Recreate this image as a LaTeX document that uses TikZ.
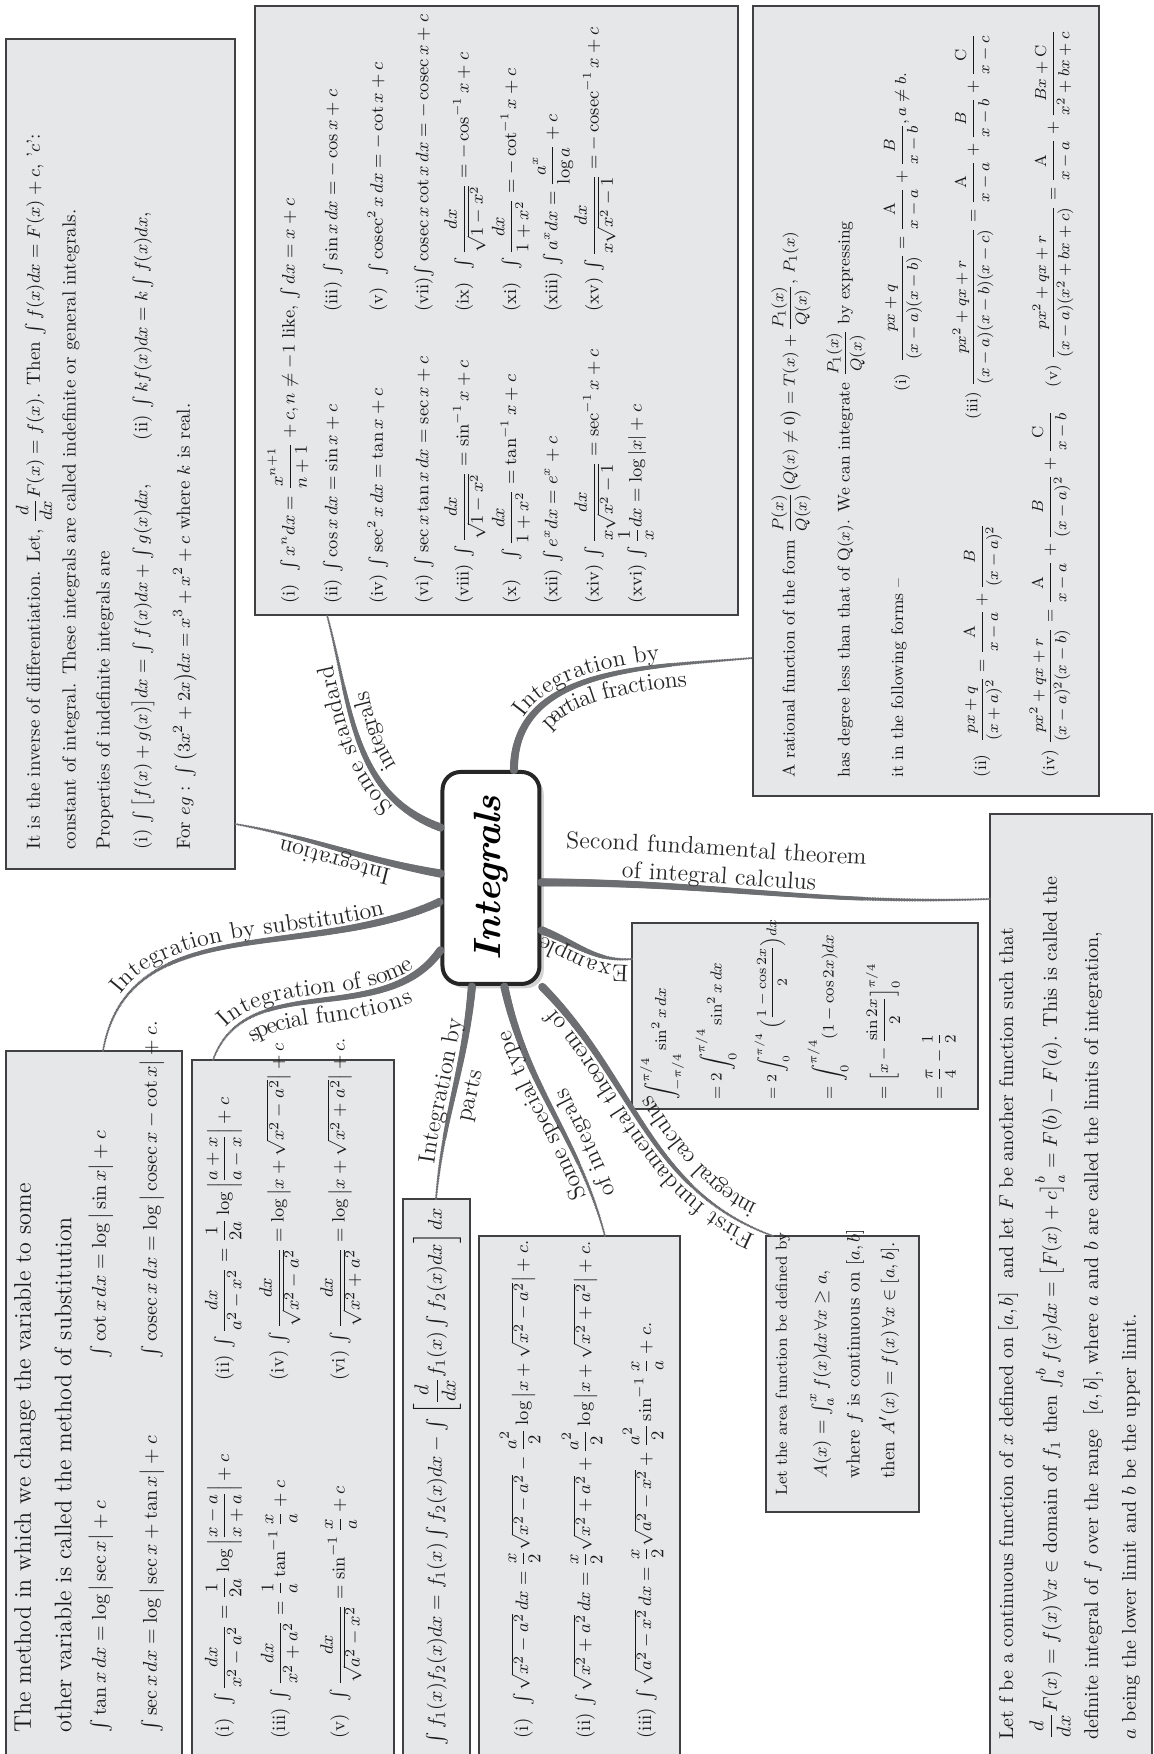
\documentclass[tikz,border=0pt]{standalone}
\usepackage{amsmath,amssymb}
\usetikzlibrary{calc,decorations.text,decorations.markings,shadows}

\definecolor{boxfill}{HTML}{E6E7E8}
\definecolor{boxline}{HTML}{414042}
\definecolor{branchgray}{HTML}{6D6E71}
\DeclareMathOperator{\cosec}{cosec}
\newcommand{\brfont}{\fontsize{12}{14}\selectfont}

\tikzset{
  infobox/.style={draw=boxline, fill=boxfill, line width=1pt, inner sep=0pt},
  txt/.style={anchor=west, inner sep=0pt, text=black!90},
  txtA/.style={txt, font=\fontsize{9.5}{11}\selectfont},
  txtB/.style={txt, font=\fontsize{9}{11}\selectfont},
  txtC/.style={txt, font=\fontsize{8.5}{10}\selectfont},
  txtCr/.style={txt, font=\fontsize{8}{10}\selectfont},
  txtD/.style={txt, font=\fontsize{10}{12}\selectfont},
  txtE/.style={txt, font=\fontsize{8}{9}\selectfont},
  txtF/.style={txt, font=\fontsize{8}{10}\selectfont},
  txtFm/.style={txt, font=\fontsize{9.5}{11}\selectfont},
  txtG/.style={txt, font=\fontsize{9.5}{11}\selectfont},
  txtH/.style={txt, font=\fontsize{10}{12}\selectfont},
  txtI/.style={txt, font=\fontsize{9.5}{11}\selectfont},
  txtJ/.style={txt, font=\fontsize{12}{14}\selectfont},
  txtJm/.style={txt, font=\fontsize{10}{12}\selectfont},
  % thick at the centre, thin at the box
  taperout/.style={postaction={decorate, decoration={markings,
      mark=between positions 0 and 1 step 0.8pt with {
        \pgfmathsetmacro{\tr}{2.1-1.55*\pgfkeysvalueof{/pgf/decoration/mark info/distance from start}/\pgfdecoratedpathlength}
        \fill[branchgray] (0,0) circle (\tr pt);}}}},
  taperin/.style={postaction={decorate, decoration={markings,
      mark=between positions 0 and 1 step 0.8pt with {
        \pgfmathsetmacro{\tr}{0.55+1.55*\pgfkeysvalueof{/pgf/decoration/mark info/distance from start}/\pgfdecoratedpathlength}
        \fill[branchgray] (0,0) circle (\tr pt);}}}},
  uplabel/.style={postaction={decorate, decoration={text along path, text align=center,
      raise=3pt, text color=black!85, text={|\brfont|#1}}}},
  dnlabel/.style={postaction={decorate, decoration={text along path, text align=center,
      raise=-11.5pt, text color=black!85, text={|\brfont|#1}}}},
  uplabelat/.style 2 args={postaction={decorate, decoration={text along path,
      text align={left, left indent=#2}, raise=3pt, text color=black!85, text={|\brfont|#1}}}},
  toplabelat/.style 2 args={postaction={decorate, decoration={text along path,
      text align={left, left indent=#2}, raise=17pt, text color=black!85, text={|\brfont|#1}}}},
  dnlabelat/.style 2 args={postaction={decorate, decoration={text along path,
      text align={left, left indent=#2}, raise=-11.5pt, text color=black!85, text={|\brfont|#1}}}},
  mainnode/.style={draw=black!85, line width=2pt, fill=white, rounded corners=9pt,
      minimum width=106pt, minimum height=48.5pt,
      font=\fontsize{19}{22}\selectfont\bfseries\itshape, drop shadow={opacity=0.35}}
}

\begin{document}
\begin{tikzpicture}[x=0.5pt, y=0.5pt, rotate=90, transform shape]
  \useasboundingbox (0,0) rectangle (1754,1153);
  \clip (0,0) rectangle (1754,1153);

  % boxes
  \node[infobox, minimum width=415pt, minimum height=114.5pt] (boxA) at (1300,1032.5) {};
  \node[infobox, minimum width=304.5pt, minimum height=241.5pt] (boxB) at (1443.5,656.5) {};
  \node[infobox, minimum width=395pt, minimum height=173pt] (boxC) at (1353,227) {};
  \node[infobox, minimum width=475pt, minimum height=81pt] (boxD) at (465,82) {};
  \node[infobox, minimum width=93pt, minimum height=173pt] (boxE) at (738,348) {};
  \node[infobox, minimum width=138pt, minimum height=76.5pt] (boxF) at (380,310.5) {};
  \node[infobox, minimum width=264pt, minimum height=100.5pt] (boxG) at (254,573.5) {};
  \node[infobox, minimum width=282.5pt, minimum height=33.5pt] (boxH) at (272.5,716.5) {};
  \node[infobox, minimum width=352pt, minimum height=101pt] (boxI) at (342,860) {};
  \node[infobox, minimum width=356.5pt, minimum height=88pt] (boxJ) at (346.5,1059) {};

  % centre
  \node[mainnode] (main) at (876,662) {Integrals};

  % branch ends on the boxes
  \coordinate (pA) at (930,918);
  \coordinate (pJ) at (703,1050);
  \coordinate (pI) at (694,940);
  \coordinate (pB) at (1139,826);
  \coordinate (pC) at (1096,400);
  \coordinate (pD) at (855,163);
  \coordinate (pE) at (795,521);
  \coordinate (pF) at (518,380);
  \coordinate (pG) at (518,548);
  \coordinate (pH) at (555,717);

  % branches
  \path[taperout, uplabel={Integration}] (main.85) to[out=80, in=-100] (pA);
  \path[taperin, uplabel={Integration by substitution}] (pJ) to[out=-10, in=115] (main.115);
  \path[taperin, uplabel={Integration of some}, dnlabel={special functions}] (pI) to[out=-20, in=145] (main.145);
  \path[taperout, uplabel={Some standard}, dnlabel={integrals}] (main.45) to[out=70, in=195] (pB);
  \path[taperout, uplabelat={Integration by}{26pt}, dnlabelat={partial fractions}{30pt}] (main.-12) to[out=0, in=95] (pC);
  \path[taperout, toplabelat={Second fundamental theorem}{12pt}, uplabelat={of integral calculus}{40pt}] (main.-95) to[out=-90, in=92] (pD);
  \path[taperin, uplabel={Example}] (pE) to[out=95, in=-110] (main.-136);
  \path[taperin, uplabelat={First fundamental theorem of}{8pt}, dnlabelat={integral calculus}{14pt}] (pF) to[out=70, in=-135] (main.-155);
  \path[taperin, uplabel={Some special type}, dnlabelat={of integrals}{18pt}] (pG) to[out=15, in=-168] (main.-173);
  \path[taperin, uplabel={Integration by}, dnlabel={parts}] (pH) to[out=-5, in=175] (main.170);

  % box A
  \node[txtA] (a1) at (904,1119) {It is the inverse of differentiation. Let, $\dfrac{d}{dx}F(x)=f(x)$. Then $\int f(x)dx=F(x)+c$, '$c$':};
  \node[txtA] (a2) at (904,1082) {constant of integral. These integrals are called indefinite or general integrals.};
  \node[txtA] (a3) at (904,1048) {Properties of indefinite integrals are};
  \node[txtA] (a4) at (904,1010) {(i) $\int\big[f(x)+g(x)\big]dx=\int f(x)dx+\int g(x)dx$, \qquad (ii) $\int kf(x)dx=k\int f(x)dx$,};
  \node[txtA] (a5) at (904,968) {For $eg$ : $\int\big(3x^2+2x\big)dx=x^3+x^2+c$ where $k$ is real.};

  % box B
  \node[txtB] (b1) at (1150,865) {(i) \ $\int x^n dx=\dfrac{x^{n+1}}{n+1}+c, n\neq-1$ like, $\int dx=x+c$};
  \node[txtB] (b2) at (1150,820) {(ii) $\int\cos x\,dx=\sin x+c$};
  \node[txtB] (b3) at (1442,820) {(iii) $\int\sin x\,dx=-\cos x+c$};
  \node[txtB] (b4) at (1150,775) {(iv) $\int\sec^2x\,dx=\tan x+c$};
  \node[txtB] (b5) at (1442,775) {(v) \ $\int\cosec^2x\,dx=-\cot x+c$};
  \node[txtB] (b6) at (1150,729) {(vi) $\int\sec x\tan x\,dx=\sec x+c$};
  \node[txtB] (b7) at (1442,729) {(vii)$\int\cosec x\cot x\,dx=-\cosec x+c$};
  \node[txtB] (b8) at (1150,688) {(viii) $\int\dfrac{dx}{\sqrt{1-x^2}}=\sin^{-1}x+c$};
  \node[txtB] (b9) at (1442,688) {(ix) \ $\int\dfrac{dx}{\sqrt{1-x^2}}=-\cos^{-1}x+c$};
  \node[txtB] (b10) at (1150,642) {(x) \ \ $\int\dfrac{dx}{1+x^2}=\tan^{-1}x+c$};
  \node[txtB] (b11) at (1442,642) {(xi) \ $\int\dfrac{dx}{1+x^2}=-\cot^{-1}x+c$};
  \node[txtB] (b12) at (1150,600) {(xii) $\int e^x dx=e^x+c$};
  \node[txtB] (b13) at (1442,600) {(xiii) $\int a^x dx=\dfrac{a^x}{\log a}+c$};
  \node[txtB] (b14) at (1150,558) {(xiv) $\int\dfrac{dx}{x\sqrt{x^2-1}}=\sec^{-1}x+c$};
  \node[txtB] (b15) at (1442,558) {(xv) $\int\dfrac{dx}{x\sqrt{x^2-1}}=-\cosec^{-1}x+c$};
  \node[txtB] (b16) at (1150,517) {(xvi) $\int\dfrac1x dx=\log|x|+c$};

  % box C
  \node[txtC] (c1) at (976,362) {A rational function of the form $\dfrac{P(x)}{Q(x)}\big(Q(x)\neq0\big)=T(x)+\dfrac{P_1(x)}{Q(x)}$, $P_1(x)$};
  \node[txtC] (c2) at (976,307) {has degree less than that of Q$(x)$. We can integrate $\dfrac{P_1(x)}{Q(x)}$ by expressing};
  \node[txtC] (c3) at (976,254) {it in the following forms --};
  \node[txtCr] (c4) at (1362,250) {(i) \ $\dfrac{px+q}{(x-a)(x-b)}=\dfrac{\mathrm{A}}{x-a}+\dfrac{B}{x-b}, a\neq b.$};
  \node[txtC] (c5) at (976,170) {(ii) \ $\dfrac{px+q}{(x+a)^2}=\dfrac{\mathrm{A}}{x-a}+\dfrac{B}{(x-a)^2}$};
  \node[txtCr] (c6) at (1334,180) {(iii) $\dfrac{px^2+qx+r}{(x-a)(x-b)(x-c)}=\dfrac{\mathrm{A}}{x-a}+\dfrac{B}{x-b}+\dfrac{\mathrm{C}}{x-c}$};
  \node[txtC] (c7) at (976,103) {(iv) $\dfrac{px^2+qx+r}{(x-a)^2(x-b)}=\dfrac{\mathrm{A}}{x-a}+\dfrac{B}{(x-a)^2}+\dfrac{\mathrm{C}}{x-b}$};
  \node[txtCr] (c8) at (1366,100) {(v) $\dfrac{px^2+qx+r}{(x-a)(x^2+bx+c)}=\dfrac{\mathrm{A}}{x-a}+\dfrac{Bx+\mathrm{C}}{x^2+bx+c}$};

  % box D
  \node[txtD] (d1) at (14,145) {Let f be a continuous function of $x$ defined on $[a,b]$ \ and let $F$ be another function such that};
  \node[txtD] (d2) at (14,103) {$\dfrac{d}{dx}F(x)=f(x)\,\forall x\in$ domain of $f_1$ then $\int_a^b f(x)dx=\big[F(x)+c\big]_a^b=F(b)-F(a)$. This is called the};
  \node[txtD] (d3) at (14,60) {definite integral of $f$ over the range \ $[a,b]$, where $a$ and $b$ are called the limits of integration,};
  \node[txtD] (d4) at (14,22) {$a$ being the lower limit and $b$ be the upper limit.};

  % box E
  \node[txtE] (e1) at (654,491) {$\displaystyle\int_{-\pi/4}^{\pi/4}\sin^2x\,dx$};
  \node[txtE] (e2) at (654,437) {$=2\displaystyle\int_0^{\pi/4}\sin^2x\,dx$};
  \node[txtE, font=\fontsize{7}{8}\selectfont] (e3) at (654,381) {$=2\displaystyle\int_0^{\pi/4}\Big(\frac{1-\cos2x}{2}\Big)dx$};
  \node[txtE] (e4) at (654,325) {$=\displaystyle\int_0^{\pi/4}(1-\cos2x)dx$};
  \node[txtE] (e5) at (654,270) {$=\Big[x-\dfrac{\sin2x}{2}\Big]_0^{\pi/4}$};
  \node[txtE] (e6) at (654,214) {$=\dfrac{\pi}{4}-\dfrac12$};

  % box F
  \node[txtF] (f1) at (258,370) {Let the area function be defined by};
  \node[txtFm] (f2) at (275,331) {$A(x)=\int_a^x f(x)dx\,\forall x\geq a,$};
  \node[txtFm] (f3) at (275,298) {where $f$ is continuous on $[a,b]$};
  \node[txtFm] (f4) at (275,264) {then $A'(x)=f(x)\,\forall x\in[a,b]$.};

  % box G
  \node[txtG] (g1) at (15,633) {(i) \ $\int\sqrt{x^2-a^2}\,dx=\dfrac x2\sqrt{x^2-a^2}-\dfrac{a^2}{2}\log\left|x+\sqrt{x^2-a^2}\right|+c.$};
  \node[txtG] (g2) at (15,571) {(ii) $\int\sqrt{x^2+a^2}\,dx=\dfrac x2\sqrt{x^2+a^2}+\dfrac{a^2}{2}\log\left|x+\sqrt{x^2+a^2}\right|+c.$};
  \node[txtG] (g3) at (15,510) {(iii) $\int\sqrt{a^2-x^2}\,dx=\dfrac x2\sqrt{a^2-x^2}+\dfrac{a^2}{2}\sin^{-1}\dfrac xa+c.$};

  % box H
  \node[txtH] (h1) at (8,716) {$\int f_1(x)f_2(x)dx=f_1(x)\int f_2(x)dx-\int\left[\dfrac{d}{dx}f_1(x)\int f_2(x)dx\right]dx$};

  % box I
  \node[txtI] (i1) at (15,929) {(i) \ $\int\dfrac{dx}{x^2-a^2}=\dfrac{1}{2a}\log\left|\dfrac{x-a}{x+a}\right|+c$};
  \node[txtI] (i2) at (373,929) {(ii) $\int\dfrac{dx}{a^2-x^2}=\dfrac{1}{2a}\log\left|\dfrac{a+x}{a-x}\right|+c$};
  \node[txtI] (i3) at (15,873) {(iii) $\int\dfrac{dx}{x^2+a^2}=\dfrac1a\tan^{-1}\dfrac xa+c$};
  \node[txtI] (i4) at (373,873) {(iv) $\int\dfrac{dx}{\sqrt{x^2-a^2}}=\log\left|x+\sqrt{x^2-a^2}\right|+c$};
  \node[txtI] (i5) at (15,812) {(v) \ $\int\dfrac{dx}{\sqrt{a^2-x^2}}=\sin^{-1}\dfrac xa+c$};
  \node[txtI] (i6) at (373,812) {(vi) $\int\dfrac{dx}{\sqrt{x^2+a^2}}=\log\left|x+\sqrt{x^2+a^2}\right|+c.$};

  % box J
  \node[txtJ] (j1) at (21,1128) {The method in which we change the variable to some};
  \node[txtJ] (j2) at (21,1090) {other variable is called the method of substitution};
  \node[txtJm] (j3) at (21,1052) {$\int\tan x\,dx=\log\big|\sec x\big|+c$};
  \node[txtJm] (j4) at (395,1052) {$\int\cot x\,dx=\log\big|\sin x\big|+c$};
  \node[txtJm] (j5) at (21,1001) {$\int\sec x\,dx=\log\big|\sec x+\tan x\big|+c$};
  \node[txtJm] (j6) at (395,1001) {$\int\cosec x\,dx=\log\big|\cosec x-\cot x\big|+c.$};
\end{tikzpicture}
\end{document}
